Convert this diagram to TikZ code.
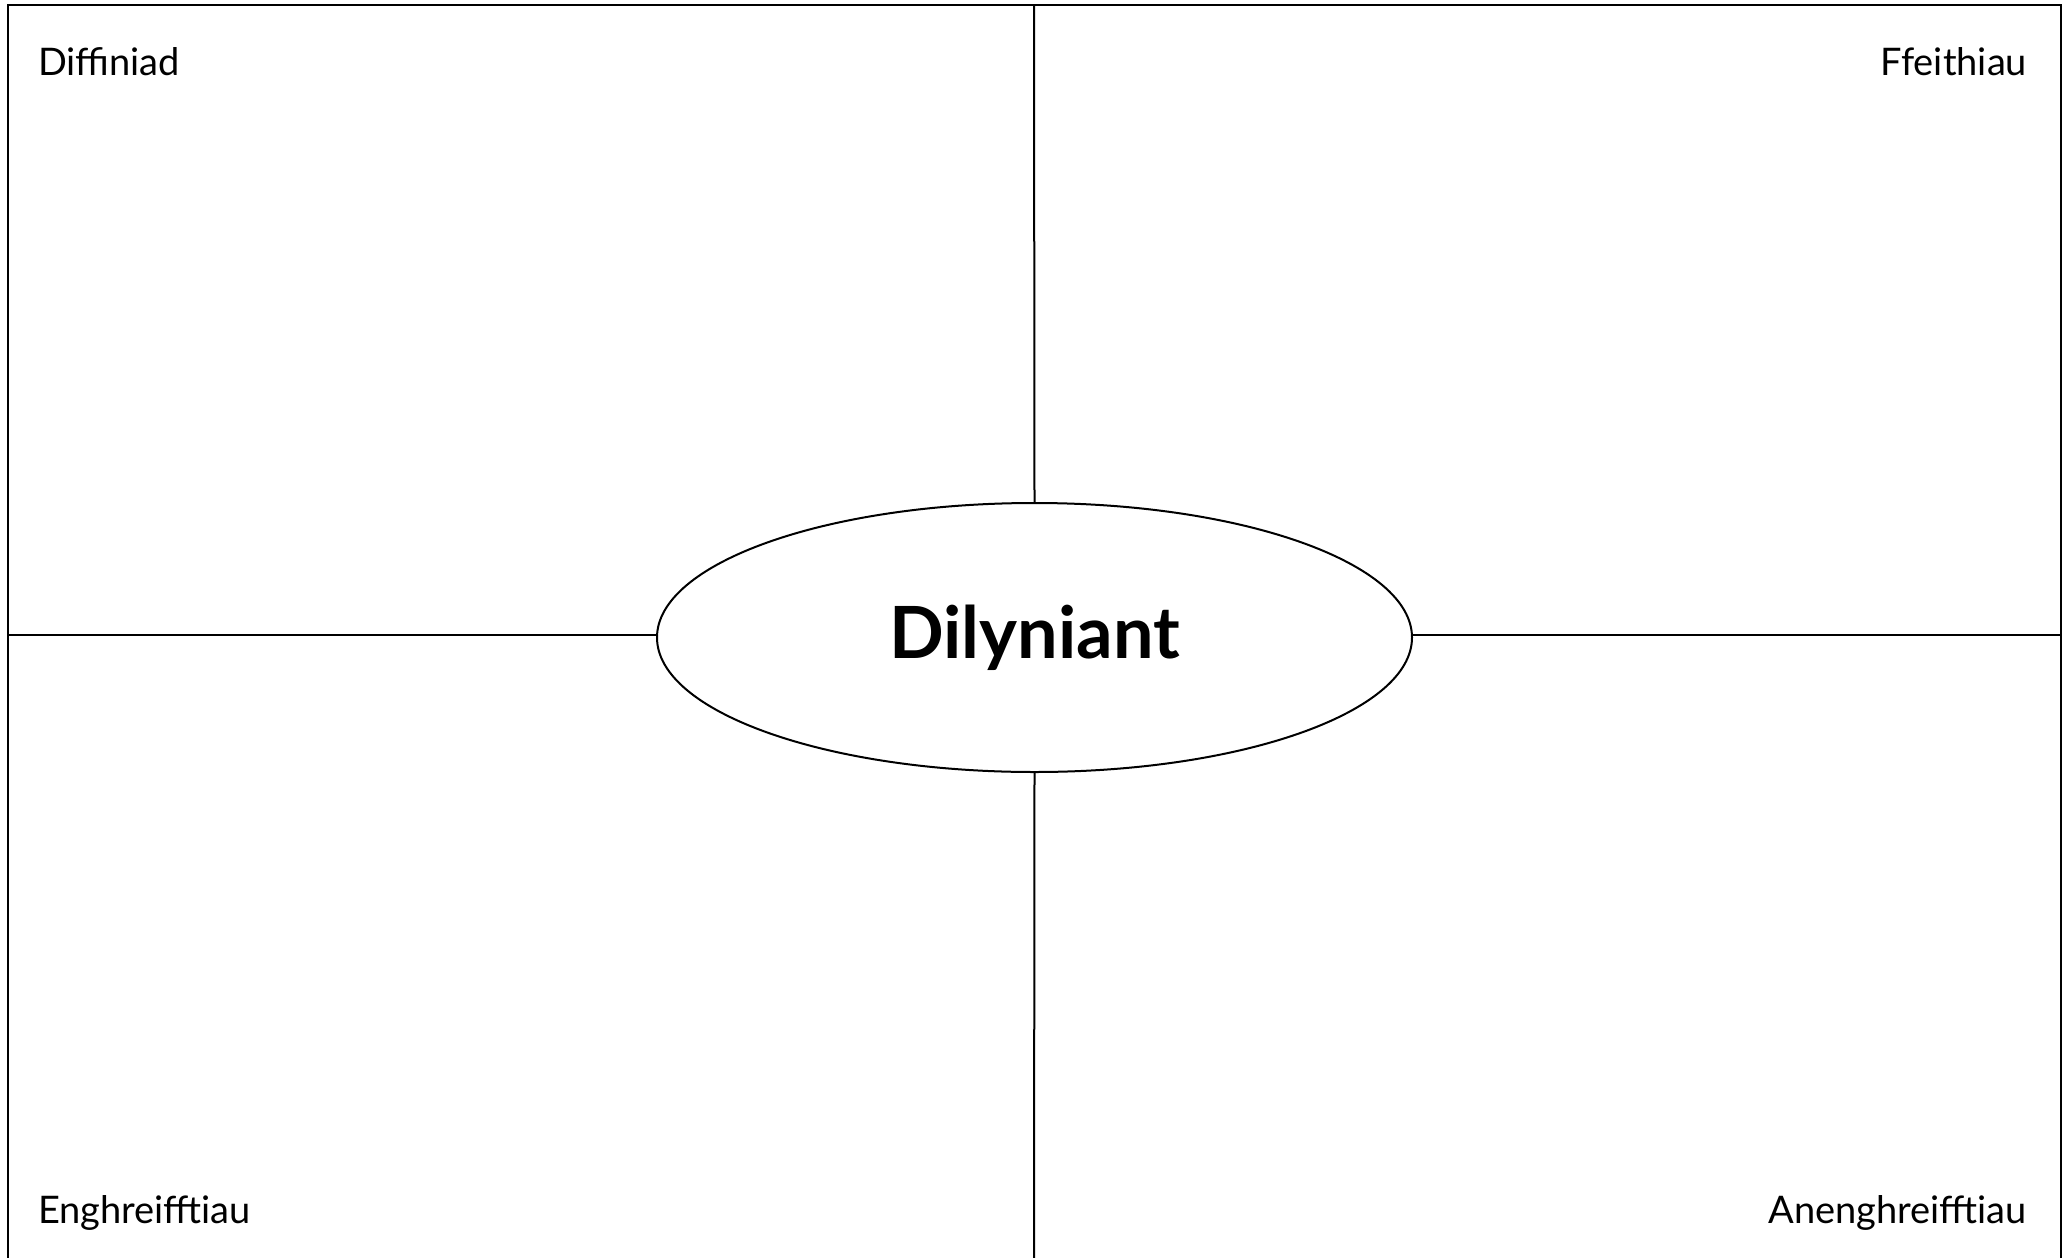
\documentclass[tikz,border=0pt]{standalone}
\usepackage{fontspec}
\setmainfont{Lato}
\usetikzlibrary{shapes.geometric}
\begin{document}
\begin{tikzpicture}[x=1pt,y=-1pt,line width=2pt,
  lbl/.style={font=\fontsize{38}{44}\selectfont,inner sep=0pt},
  centre/.style={draw,ellipse,minimum width=755pt,minimum height=269pt,inner sep=0pt,font=\fontsize{72}{82}\selectfont\bfseries}]
\useasboundingbox (0,0) rectangle (2067,1258);
\coordinate (tl) at (8,5);
\coordinate (tr) at (2061,5);
\coordinate (bl) at (8,1262);
\coordinate (br) at (2061,1262);
\coordinate (tm) at (1034,5);
\coordinate (bm) at (1034,1262);
\coordinate (ml) at (8,635);
\coordinate (mr) at (2061,635);
\draw (bl) -- (tl) -- (tr) -- (br);
\node[centre] (c) at (1034.5,637.5) {Dilyniant};
\draw (tm) -- (c.north);
\draw (c.south) -- (bm);
\draw (ml) -- (ml -| c.west);
\draw (mr -| c.east) -- (mr);
\node[lbl,anchor=base west] (d) at (37,75) {Diffiniad};
\node[lbl,anchor=base east] (f) at (2028,75) {Ffeithiau};
\node[lbl,anchor=base west] (e) at (37,1223) {Enghreifftiau};
\node[lbl,anchor=base east] (a) at (2028,1223) {Anenghreifftiau};
\end{tikzpicture}
\end{document}
